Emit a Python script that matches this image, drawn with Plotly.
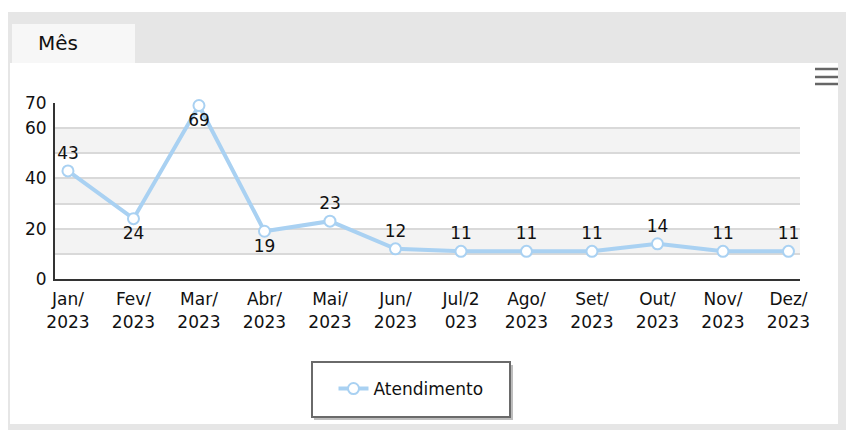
import plotly.graph_objects as go

# ---- data ----
months = ["Jan/2023", "Fev/2023", "Mar/2023", "Abr/2023", "Mai/2023", "Jun/2023",
          "Jul/2023", "Ago/2023", "Set/2023", "Out/2023", "Nov/2023", "Dez/2023"]
tick_text = ["Jan/<br>2023", "Fev/<br>2023", "Mar/<br>2023", "Abr/<br>2023", "Mai/<br>2023",
             "Jun/<br>2023", "Jul/2<br>023", "Ago/<br>2023", "Set/<br>2023", "Out/<br>2023",
             "Nov/<br>2023", "Dez/<br>2023"]
atendimento = [43, 24, 69, 19, 23, 12, 11, 11, 11, 14, 11, 11]
label_pos = ["top center", "bottom center", "bottom center", "bottom center", "top center",
             "top center", "top center", "top center", "top center", "top center",
             "top center", "top center"]
y_ticks = [0, 20, 40, 60, 70]
series_name = "Atendimento"
title_text = "Mês"

FONT = "DejaVu Sans, Arial, sans-serif"
W, H = 846, 430
ML, MR, MT, MB = 55, 46, 103, 151
PW, PH = W - ML - MR, H - MT - MB


def px(x):
    return (x - ML) / PW


def py(y):
    return (H - MB - y) / PH


x_idx = list(range(len(months)))

fig = go.Figure()
fig.add_trace(go.Scatter(
    x=x_idx, y=atendimento, name=series_name, mode="lines+markers+text",
    line=dict(color="#a9d1f2", width=4),
    marker=dict(size=11, color="white", line=dict(color="#a9d1f2", width=2)),
    text=[str(v) for v in atendimento], textposition=label_pos,
    textfont=dict(family=FONT, size=17, color="#111"),
    cliponaxis=False,
))

shapes = [
    # outer grey panel
    dict(type="rect", xref="paper", yref="paper", x0=px(8), x1=px(846), y0=py(430), y1=py(12),
         fillcolor="#e6e6e6", line=dict(width=0), layer="below"),
    # white content area
    dict(type="rect", xref="paper", yref="paper", x0=px(10), x1=px(838), y0=py(424), y1=py(63),
         fillcolor="white", line=dict(width=0), layer="below"),
    # tab
    dict(type="rect", xref="paper", yref="paper", x0=px(12), x1=px(135), y0=py(63), y1=py(24),
         fillcolor="#f7f7f7", line=dict(width=0), layer="below"),
    # legend box shadow and frame
    dict(type="rect", xref="paper", yref="paper", x0=px(314), x1=px(513), y0=py(420), y1=py(365),
         fillcolor="#bdbdbd", line=dict(width=0), layer="below"),
    dict(type="rect", xref="paper", yref="paper", x0=px(312), x1=px(510), y0=py(417), y1=py(362),
         fillcolor="white", line=dict(color="#6a6a6a", width=2), layer="below"),
]
for lo in (10, 30, 50):
    shapes.append(dict(type="rect", xref="x domain", yref="y", x0=0, x1=1, y0=lo, y1=lo + 10,
                       fillcolor="#f3f3f3", line=dict(width=0), layer="below"))
for yy in (69, 77, 84):
    shapes.append(dict(type="line", xref="paper", yref="paper", x0=px(815), x1=px(838),
                       y0=py(yy), y1=py(yy), line=dict(color="#666", width=2.5)))

fig.update_layout(
    width=W, height=H,
    margin=dict(l=ML, r=MR, t=MT, b=MB),
    paper_bgcolor="white", plot_bgcolor="rgba(0,0,0,0)",
    font=dict(family=FONT, size=17, color="#111"),
    shapes=shapes,
    showlegend=True,
    legend=dict(
        x=px(411), xanchor="center", y=py(389), yanchor="middle",
        orientation="h", bgcolor="rgba(0,0,0,0)", borderwidth=0,
        font=dict(family=FONT, size=17, color="#111"),
    ),
    annotations=[dict(text=title_text, xref="paper", yref="paper", x=px(58), y=py(43),
                      xanchor="center", yanchor="middle", showarrow=False,
                      font=dict(family=FONT, size=20, color="#111"))],
    xaxis=dict(
        range=[-0.198, 11.176], tickvals=x_idx, ticktext=tick_text,
        showgrid=False, zeroline=False, showline=True, linecolor="#333", linewidth=2,
        tickfont=dict(family=FONT, size=17, color="#111"), ticks="", ticklabelstandoff=4,
        fixedrange=True,
    ),
    yaxis=dict(
        range=[0, 70], tickvals=y_ticks, showgrid=True, gridcolor="#d9d9d9", gridwidth=2,
        minor=dict(dtick=10, showgrid=True, gridcolor="#d9d9d9", gridwidth=2),
        zeroline=False, showline=True, linecolor="#333", linewidth=2,
        tickfont=dict(family=FONT, size=17, color="#111"), ticks="", ticklabelstandoff=3,
        fixedrange=True,
    ),
)

fig.write_html("out.html", config={"displayModeBar": False},
               post_script="document.body.style.margin='0';")
